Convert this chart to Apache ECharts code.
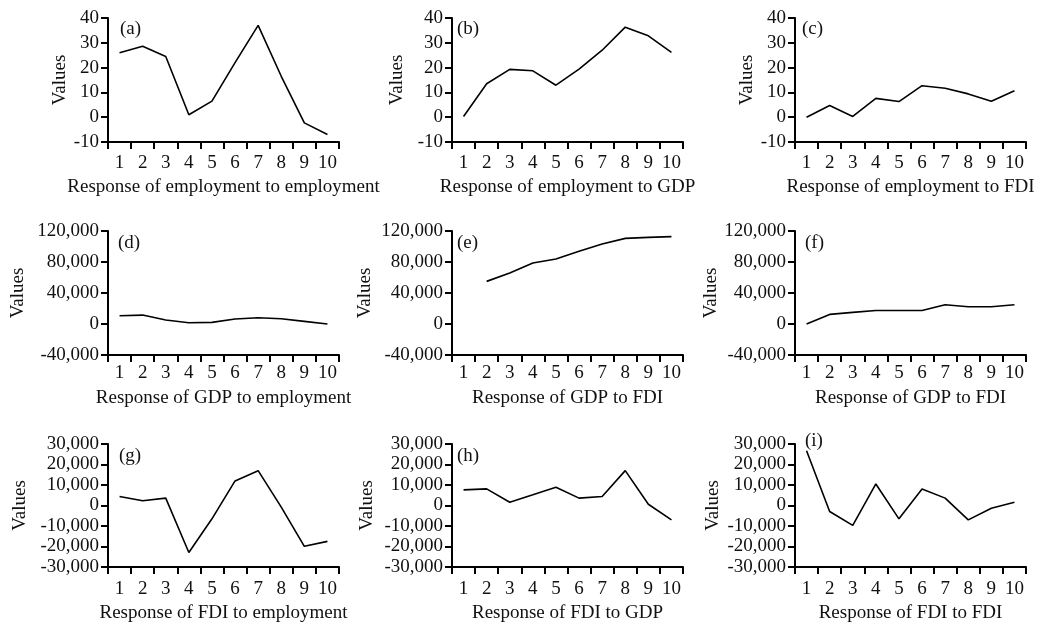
<!DOCTYPE html>
<html>
<head>
<meta charset="utf-8">
<script src="https://cdn.jsdelivr.net/npm/echarts@6/dist/echarts.min.js"></script>
<style>
html,body{margin:0;padding:0;background:#fff;}
#chart{width:1039px;height:624px;}
</style>
</head>
<body>
<div id="chart"></div>
<script>
// ---- data ----
const periods = ['1','2','3','4','5','6','7','8','9','10'];

const empToEmp = [26, 28.6, 24.5, 1, 6.5, 22, 37, 16.5, -2.3, -7];
const empToGDP = [0.3, 13.5, 19.3, 18.7, 12.9, 19.4, 27, 36.3, 32.8, 26.1];
const empToFDI = [0, 4.7, 0.3, 7.6, 6.3, 12.7, 11.7, 9.4, 6.4, 10.7];

const gdpToEmp = [10700, 11500, 5100, 1700, 2100, 6400, 8100, 6800, 3400, 0];
const gdpToFDIe = [null, 55000, 65800, 78700, 83900, 93800, 103200, 110500, 111800, 112700];
const gdpToFDIf = [0, 12400, 15000, 17500, 17500, 17500, 24800, 22200, 22200, 24800];

const fdiToEmp = [4400, 2300, 3600, -22900, -6500, 12000, 17000, -800, -19900, -17500];
const fdiToGDP = [7600, 8100, 1600, 5200, 8900, 3600, 4400, 17000, 600, -7000];
const fdiToFDI = [26700, -2900, -9700, 10500, -6500, 8100, 3600, -7000, -1300, 1600];

const panelLetters = ['(a)','(b)','(c)','(d)','(e)','(f)','(g)','(h)','(i)'];
const xTitles = [
  'Response of employment to employment',
  'Response of employment to GDP',
  'Response of employment to FDI',
  'Response of GDP to employment',
  'Response of GDP to FDI',
  'Response of GDP to FDI',
  'Response of FDI to employment',
  'Response of FDI to GDP',
  'Response of FDI to FDI'
];
const seriesData = [empToEmp, empToGDP, empToFDI, gdpToEmp, gdpToFDIe, gdpToFDIf, fdiToEmp, fdiToGDP, fdiToFDI];

// y-axis ranges per row: [min, max, interval]
const rowRanges = [[-10, 40, 10], [-40000, 120000, 40000], [-30000, 30000, 10000]];

// ---- layout ----
const FONT = 'Liberation Serif';
const colLeft = [108, 452, 795];
const rowTop = [18, 231, 444];
const gridW = 231, gridH = 124;
const yNameGap = [[38, 45, 35], [80, 77, 72], [78, 75, 72]];
const xLabelMargin = [12, 9, 13];
const xNameGap = [36, 34, 37];
const letterPos = [
  [120, 20], [457, 20], [802, 20],
  [118, 234], [457, 234], [805, 234],
  [119, 447], [457, 447], [805, 432]
];

function fmt(v) {
  const s = Math.abs(v).toString().replace(/\B(?=(\d{3})+(?!\d))/g, ',');
  return (v < 0 ? '-' : '') + s;
}

const grid = [], xAxis = [], yAxis = [], series = [], title = [];
for (let i = 0; i < 9; i++) {
  const r = Math.floor(i / 3), c = i % 3;
  const rg = rowRanges[r];
  grid.push({left: colLeft[c], top: rowTop[r], width: gridW, height: gridH, containLabel: false});
  xAxis.push({
    type: 'category', gridIndex: i, data: periods, boundaryGap: true,
    axisLine: {onZero: false, lineStyle: {color: '#000', width: 2}},
    axisTick: {show: true, length: 7, inside: false, alignWithLabel: false, interval: 0, lineStyle: {color: '#000', width: 2}},
    axisLabel: {color: '#111', fontFamily: FONT, fontSize: 19, margin: xLabelMargin[r], interval: 0, hideOverlap: false},
    name: xTitles[i], nameLocation: 'middle', nameGap: xNameGap[r],
    nameTextStyle: {color: '#111', fontFamily: FONT, fontSize: 19},
    splitLine: {show: false}
  });
  yAxis.push({
    type: 'value', gridIndex: i, min: rg[0], max: rg[1], interval: rg[2],
    axisLine: {show: true, lineStyle: {color: '#000', width: 2}},
    axisTick: {show: true, length: 7, lineStyle: {color: '#000', width: 2}},
    axisLabel: {color: '#111', fontFamily: FONT, fontSize: 19, margin: 9, formatter: fmt},
    splitLine: {show: false},
    name: 'Values', nameLocation: 'middle', nameGap: yNameGap[r][c], nameRotate: 90,
    nameTextStyle: {color: '#111', fontFamily: FONT, fontSize: 19}
  });
  series.push({
    type: 'line', xAxisIndex: i, yAxisIndex: i, data: seriesData[i],
    symbol: 'none', smooth: false, connectNulls: false,
    lineStyle: {color: '#000', width: 1.6}, animation: false
  });
  title.push({
    text: panelLetters[i], left: letterPos[i][0], top: letterPos[i][1], padding: 0,
    textStyle: {color: '#111', fontFamily: FONT, fontSize: 19, fontWeight: 'normal'}
  });
}

const chart = echarts.init(document.getElementById('chart'), null, {renderer: 'canvas'});
chart.setOption({backgroundColor: '#fff', animation: false, title, grid, xAxis, yAxis, series});
</script>
</body>
</html>
